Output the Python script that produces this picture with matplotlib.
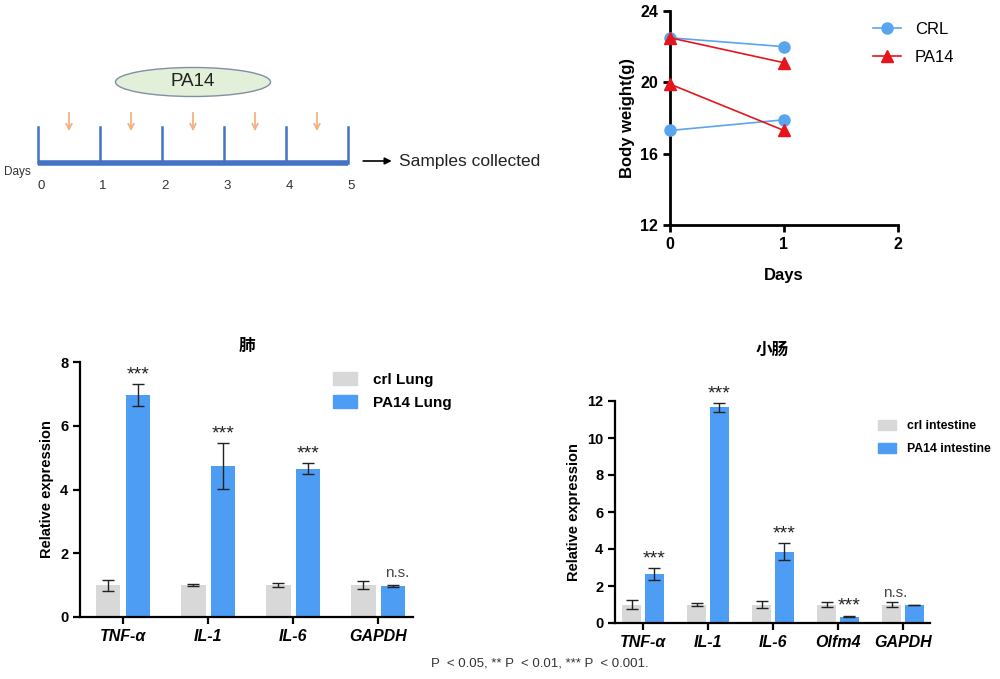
import numpy as np
import matplotlib
matplotlib.use('Agg')
import matplotlib.pyplot as plt
from matplotlib.patches import Ellipse, Patch
from matplotlib.lines import Line2D

plt.rcParams['font.family'] = ['Liberation Sans', 'Noto Sans CJK SC', 'DejaVu Sans']

# ── data ──────────────────────────────────────────
tl_days = [0, 1, 2, 3, 4, 5]
tl_doses = [0.5, 1.5, 2.5, 3.5, 4.5]

bw_days = [0, 1]
crl_a = [22.5, 22.0]
crl_b = [17.3, 17.9]
pa_a = [22.5, 21.1]
pa_b = [19.9, 17.3]

lung_genes = ['TNF-α', 'IL-1', 'IL-6', 'GAPDH']
lung_crl = [1.0, 1.0, 1.0, 1.0]
lung_crl_err = [0.17, 0.02, 0.07, 0.12]
lung_pa = [6.97, 4.75, 4.65, 0.98]
lung_pa_err = [0.35, 0.72, 0.17, 0.03]
lung_sig = ['***', '***', '***', 'n.s.']

int_genes = ['TNF-α', 'IL-1', 'IL-6', 'Olfm4', 'GAPDH']
int_crl = [1.0, 1.0, 1.0, 1.0, 1.0]
int_crl_err = [0.22, 0.07, 0.17, 0.13, 0.15]
int_pa = [2.65, 11.65, 3.85, 0.35, 0.97]
int_pa_err = [0.3, 0.22, 0.45, 0.05, 0.02]
int_sig = ['***', '***', '***', '***', 'n.s.']

GREY = '#d8d8d8'
BLUE = '#4d9df5'
W, H = 1000, 679

fig = plt.figure(figsize=(10, 6.79), dpi=100)
fig.patch.set_facecolor('white')


def px_axes(x0, y0, x1, y1):
    # axes from pixel box (top-left origin)
    return fig.add_axes([x0 / W, 1 - y1 / H, (x1 - x0) / W, (y1 - y0) / H])


# ── timeline schematic ────────────────────────────
axt = px_axes(0, 40, 560, 200)
axt.set_xlim(-38 / 62, (560 - 38) / 62)
axt.set_ylim(200, 40)
axt.axis('off')
axt.plot([tl_days[0], tl_days[-1]], [163, 163], color='#4472c4', lw=4, solid_capstyle='butt')
for d in tl_days:
    axt.plot([d, d], [127, 163], color='#4472c4', lw=1.8)
    axt.text(d + 0.05, 186, str(d), ha='center', va='center', fontsize=9.5, color='#333333')
for d in tl_doses:
    axt.annotate('', xy=(d, 134), xytext=(d, 110),
                 arrowprops=dict(arrowstyle='->', color='#f4b183', lw=1.3))
axt.text(-0.55, 172, 'Days', fontsize=8.5, ha='left', va='center', color='#333333')
axt.add_patch(Ellipse((2.5, 82), 155 / 62, 29, facecolor='#e2efd9', edgecolor='#7f8fa6', lw=1))
axt.text(2.5, 82, 'PA14', ha='center', va='center', fontsize=13.5, color='#222222')
axt.annotate('', xy=(5.75, 161), xytext=(5.2, 161),
             arrowprops=dict(arrowstyle='-|>', color='black', lw=1.2, mutation_scale=10))
axt.text(5.82, 161, 'Samples collected', ha='left', va='center', fontsize=12.5, color='#222222')

# ── body weight ───────────────────────────────────
axw = px_axes(670, 11, 898, 225)
for ys in (crl_a, crl_b):
    axw.plot(bw_days, ys, color='#5aa5f0', lw=1.2, marker='o', ms=8, clip_on=False, zorder=3)
for ys in (pa_a, pa_b):
    axw.plot(bw_days, ys, color='#e8141c', lw=1.2, marker='^', ms=8, clip_on=False, zorder=3)
axw.set_xlim(0, 2)
axw.set_ylim(12, 24)
axw.set_xticks([0, 1, 2])
axw.set_yticks([12, 16, 20, 24])
for s in ('top', 'right'):
    axw.spines[s].set_visible(False)
for s in ('left', 'bottom'):
    axw.spines[s].set_linewidth(2)
axw.tick_params(width=2, length=5, labelsize=11.5)
for lab in axw.get_xticklabels() + axw.get_yticklabels():
    lab.set_fontweight('bold')
axw.set_xlabel('Days', fontsize=12, fontweight='bold', labelpad=12)
axw.set_ylabel('Body weight(g)', fontsize=12, fontweight='bold', labelpad=4)
handles = [Line2D([], [], color='#5aa5f0', marker='o', ms=8, lw=1.2),
           Line2D([], [], color='#e8141c', marker='^', ms=8, lw=1.2)]
fig.legend(handles, ['CRL', 'PA14'], loc='upper left', bbox_to_anchor=(858 / W, 1 - 7 / H),
           frameon=False, fontsize=12, handlelength=1.7, labelspacing=0.75, handletextpad=0.8)


# ── bar charts ────────────────────────────────────
def bar_panel(ax, genes, crl, crl_err, pa, pa_err, sig, ymax, ystep, star_off, ns_dx, ns_dy):
    x = np.arange(len(genes))
    ax.bar(x - 0.175, crl, width=0.29, color=GREY, zorder=2)
    ax.bar(x + 0.175, pa, width=0.29, color=BLUE, zorder=2)
    ax.errorbar(x - 0.175, crl, yerr=crl_err, fmt='none', ecolor='#222222', elinewidth=1, capsize=4, zorder=3)
    ax.errorbar(x + 0.175, pa, yerr=pa_err, fmt='none', ecolor='#222222', elinewidth=1, capsize=4, zorder=3)
    for xi, v, e, s in zip(x, pa, pa_err, sig):
        if s == 'n.s.':
            ax.text(xi + 0.175 + ns_dx, v + e + ns_dy, s, ha='center', va='bottom',
                    fontsize=11, color='#444444')
        else:
            ax.text(xi + 0.175, v + e + star_off, s, ha='center', va='bottom', fontsize=14, color='#222222')
    ax.set_ylim(0, ymax)
    ax.set_yticks(np.arange(0, ymax + 0.1, ystep))
    ax.set_xticks(x)
    ax.set_xticklabels(genes, fontstyle='italic', fontweight='bold', fontsize=11.5)
    for lab in ax.get_yticklabels():
        lab.set_fontweight('bold')
    for s in ('top', 'right'):
        ax.spines[s].set_visible(False)
    for s in ('left', 'bottom'):
        ax.spines[s].set_linewidth(1.6)
    ax.tick_params(width=1.6, length=5, labelsize=10.5)
    ax.tick_params(axis='x', labelsize=11.5)
    ax.set_ylabel('Relative expression', fontsize=10.5, fontweight='bold')


ax1 = px_axes(80, 362, 413, 617)
ax1.set_xlim(-0.506, 3.41)
bar_panel(ax1, lung_genes, lung_crl, lung_crl_err, lung_pa, lung_pa_err, lung_sig, 8, 2, 0.02, 0.05, 0.15)
ax1.set_title('肺', fontsize=12, fontweight='bold', pad=8)
ax1.legend([Patch(color=GREY), Patch(color=BLUE)], ['crl Lung', 'PA14 Lung'],
           loc='upper left', bbox_to_anchor=(0.718, 1.015), frameon=False,
           prop=dict(weight='bold', size=11), handlelength=1.6, handleheight=0.9,
           labelspacing=0.55, handletextpad=1.0)

ax2 = px_axes(615, 401, 930, 623)
ax2.set_xlim(-0.43, 4.415)
bar_panel(ax2, int_genes, int_crl, int_crl_err, int_pa, int_pa_err, int_sig, 12, 2, 0.05, -0.3, 0.25)
ax2.set_title('小肠', fontsize=12, fontweight='bold', pad=33)
ax2.legend([Patch(color=GREY), Patch(color=BLUE)], ['crl intestine', 'PA14 intestine'],
           loc='upper left', bbox_to_anchor=(0.80, 0.964), frameon=False,
           prop=dict(weight='bold', size=8.8), handlelength=1.5, handleheight=0.9,
           labelspacing=0.85, handletextpad=0.85)

fig.text(540 / W, 1 - 664 / H, 'P  < 0.05, ** P  < 0.01, *** P  < 0.001.',
         ha='center', va='center', fontsize=9.5, color='#333333')

fig.savefig('out.png', dpi=100, facecolor='white')
plt.close(fig)
